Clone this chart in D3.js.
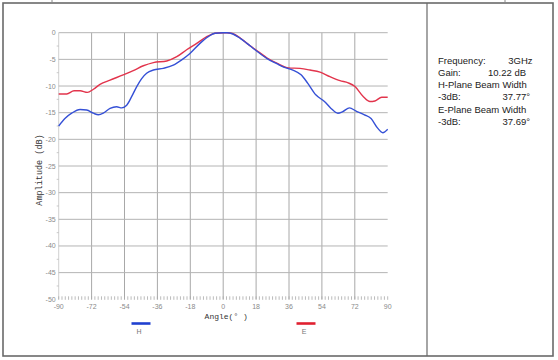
<!DOCTYPE html>
<html><head><meta charset="utf-8">
<script src="https://cdn.jsdelivr.net/npm/d3@7"></script>
<style>body{margin:0;background:#fff}svg{display:block}</style>
</head><body>
<svg id="c" width="558" height="360"></svg>
<script>
const xTicks = [-90,-72,-54,-36,-18,0,18,36,54,72,90];
const yTicks = [0,-5,-10,-15,-20,-25,-30,-35,-40,-45,-50];
const seriesNames = ["H","E"];
const seriesColors = ["#3550d6","#e2344c"];
const hAngles = [-90,-86.6,-82.9,-78.3,-74.7,-71,-68.3,-65.6,-61.9,-58.3,-55.5,-52.8,-50.1,-47.3,-44.6,-41.9,-38.2,-32.8,-27.3,-22.7,-18.2,-12.7,-8.2,-4.5,0,2,5,9.3,13,17.4,23.8,29.3,33.5,38.1,42.6,46.3,50.8,55.4,59,62.7,65.4,69.1,72.7,77.3,80.9,84.5,87.3,90];
const hValues = [-17.5,-16.1,-15.1,-14.4,-14.5,-15.1,-15.4,-15.1,-14.2,-13.9,-14.1,-13.6,-12.0,-10.1,-8.6,-7.6,-7.0,-6.7,-6.1,-5.1,-3.9,-2.0,-0.75,-0.1,0,0,-0.2,-1.05,-2.0,-3.2,-4.8,-5.8,-6.5,-7.0,-7.9,-9.5,-11.7,-12.9,-14.2,-15.1,-14.8,-14.1,-14.7,-15.4,-16.1,-17.9,-18.75,-18.1];
const eAngles = [-90,-85.6,-81.6,-78.3,-74.3,-71,-67.4,-61.9,-54.7,-49.2,-43.7,-38.2,-30.9,-25.4,-20,-14.5,-9,-4.5,0,2,5,9.3,13,17.4,23.8,29.3,35.7,42,47.5,53,58.4,63.9,68.4,72.1,76.7,80.3,83,86.7,90];
const eValues = [-11.5,-11.5,-10.9,-10.9,-11.2,-10.6,-9.7,-8.9,-7.9,-7.1,-6.2,-5.6,-5.3,-4.5,-3.2,-2.0,-0.75,-0.1,0,0,-0.15,-1.0,-2.0,-3.1,-4.7,-5.7,-6.6,-6.7,-7.0,-7.4,-8.25,-9.0,-9.4,-10.1,-12.0,-12.9,-12.8,-12.1,-12.1];
const infoLines = [["Frequency:","3GHz"],["Gain:","10.22 dB"],["H-Plane Beam Width",""],["-3dB:","37.77°"],["E-Plane Beam Width",""],["-3dB:","37.69°"]];

const svg = d3.select("#c");
// frame
svg.append("rect").attr("x",3).attr("y",3).attr("width",550).attr("height",353)
  .attr("fill","none").attr("stroke","#6a6a6a").attr("stroke-width",1.6);
svg.append("line").attr("x1",427).attr("x2",427).attr("y1",3).attr("y2",356).attr("stroke","#6a6a6a").attr("stroke-width",1.2);
svg.append("line").attr("x1",52).attr("x2",52).attr("y1",0).attr("y2",3).attr("stroke","#888");
svg.append("line").attr("x1",505).attr("x2",505).attr("y1",0).attr("y2",3).attr("stroke","#888");

const x = d3.scaleLinear().domain([-90,90]).range([58.7,387.7]);
const y = d3.scaleLinear().domain([0,-50]).range([32.7,299.3]);

const g = svg.append("g");
// grid
g.selectAll(".vg").data(xTicks.slice(1,-1)).join("line")
  .attr("x1",d=>x(d)).attr("x2",d=>x(d)).attr("y1",y(0)).attr("y2",y(-50))
  .attr("stroke","#a8a8a8").attr("stroke-width",1);
g.append("line").attr("x1",x(-90)).attr("x2",x(-90)).attr("y1",y(0)).attr("y2",y(-50)).attr("stroke","#d0d0d0");
g.selectAll(".hg").data(yTicks.slice(0,-1)).join("line")
  .attr("x1",x(-90)).attr("x2",x(90)).attr("y1",d=>y(d)).attr("y2",d=>y(d))
  .attr("stroke","#b4b4b4").attr("stroke-width",1);
// bottom dotted minor ticks
const minorX = d3.range(-90,90.01,1.8);
g.selectAll(".mx").data(minorX).join("line")
  .attr("x1",d=>x(d)).attr("x2",d=>x(d)).attr("y1",y(-50)-3).attr("y2",y(-50)+0.5)
  .attr("stroke","#aaa").attr("stroke-width",0.8);
g.selectAll(".my").data(d3.range(-2.5,-50,-5)).join("line")
  .attr("x1",x(-90)-2).attr("x2",x(-90)).attr("y1",d=>y(d)).attr("y2",d=>y(d))
  .attr("stroke","#bbb").attr("stroke-width",0.8);

// tick labels
g.selectAll(".yl").data(yTicks).join("text")
  .attr("x",x(-90)-3).attr("y",d=>y(d)+2.5).attr("text-anchor","end")
  .attr("font-family","Liberation Sans, Arial").attr("font-size",7).attr("fill","#8a8a8a")
  .text(d=>d);
g.selectAll(".xl").data(xTicks).join("text")
  .attr("x",d=>x(d)).attr("y",y(-50)+9.5).attr("text-anchor","middle")
  .attr("font-family","Liberation Sans, Arial").attr("font-size",7).attr("fill","#8a8a8a")
  .text(d=>d);

// axis titles
svg.append("text").attr("transform",`translate(42,170) rotate(-90)`)
  .attr("text-anchor","middle").attr("font-family","Liberation Mono, DejaVu Sans Mono, monospace")
  .attr("font-size",8.5).attr("fill","#333").text("Amplitude (dB)");
svg.append("text").attr("x",x(0)+3).attr("y",318.5).attr("text-anchor","middle")
  .attr("font-family","Liberation Mono, DejaVu Sans Mono, monospace")
  .attr("font-size",8).attr("fill","#333").text("Angle(° )");

// series
const line = d3.line().x(d=>x(d[0])).y(d=>y(d[1])).curve(d3.curveMonotoneX);
const hData = hAngles.map((a,i)=>[a,hValues[i]]);
const eData = eAngles.map((a,i)=>[a,eValues[i]]);
g.append("path").datum(eData).attr("d",line).attr("fill","none").attr("stroke",seriesColors[1]).attr("stroke-width",1.4);
g.append("path").datum(hData).attr("d",line).attr("fill","none").attr("stroke",seriesColors[0]).attr("stroke-width",1.4);

// legend
const legX = [141, 306];
seriesNames.forEach((n,i)=>{
  svg.append("line").attr("x1",legX[i]-9.5).attr("x2",legX[i]+9.5).attr("y1",323.5).attr("y2",323.5)
    .attr("stroke",i===0?"#2040d0":"#e02030").attr("stroke-width",2.6);
  svg.append("text").attr("x",legX[i]-2).attr("y",334).attr("text-anchor","middle")
    .attr("font-family","Liberation Sans, Arial").attr("font-size",7).attr("fill","#777").text(n);
});

// info panel
const info = svg.append("g").attr("font-family","Liberation Sans, Arial").attr("font-size",9.5).attr("fill","#222");
const rightX = [532.5, 507, 0, 530, 0, 530];
infoLines.forEach((l,i)=>{
  const yy = 63.5 + i*12.3;
  info.append("text").attr("x",438).attr("y",yy).text(l[0]);
  if (l[1]) info.append("text").attr("x",rightX[i]).attr("y",yy).attr("text-anchor", i===1?"middle":"end").text(l[1]);
});
</script>
</body></html>
